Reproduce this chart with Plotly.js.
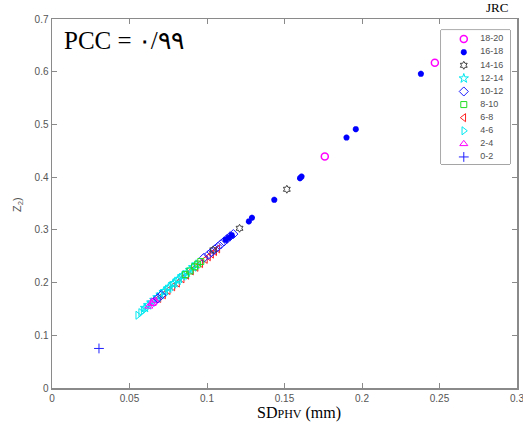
<!DOCTYPE html>
<html>
<head>
<meta charset="utf-8">
<script src="https://cdn.plot.ly/plotly-3.0.1.min.js"></script>
<style>html,body{margin:0;padding:0;background:#fff;}#chart{width:523px;height:430px;}</style>
</head>
<body>
<div id="chart"></div>
<script>
// ---- Data ----
const categories = ["18-20","16-18","14-16","12-14","10-12","8-10","6-8","4-6","2-4","0-2"];

const x_18_20 = [0.0655, 0.176, 0.247];
const y_18_20 = [0.163, 0.439, 0.617];

const x_16_18 = [0.112, 0.114, 0.116, 0.127, 0.129, 0.1434, 0.160, 0.161, 0.190, 0.196, 0.238];
const y_16_18 = [0.281, 0.285, 0.290, 0.316, 0.323, 0.357, 0.398, 0.401, 0.475, 0.491, 0.596];

const x_14_16 = [0.104, 0.121, 0.1515];
const y_14_16 = [0.262, 0.303, 0.377];

const x_12_14 = [0.060,0.062,0.064,0.066,0.068,0.070,0.072,0.073,0.075,0.076,0.078,0.079,0.081,0.082,0.084,0.085,0.087,0.089,0.091,0.093];
const y_12_14 = [0.152,0.157,0.162,0.167,0.172,0.177,0.182,0.184,0.189,0.192,0.197,0.199,0.204,0.207,0.212,0.214,0.219,0.224,0.229,0.234];

const x_10_12 = [0.0682,0.0705,0.098,0.101,0.103,0.105,0.107,0.109,0.111,0.113,0.115,0.117];
const y_10_12 = [0.170,0.176,0.247,0.253,0.258,0.263,0.268,0.273,0.278,0.283,0.288,0.292];

const x_8_10 = [0.086,0.089,0.092,0.094,0.096];
const y_8_10 = [0.215,0.222,0.230,0.235,0.240];

const x_6_8 = [0.069,0.072,0.075,0.078,0.081,0.084,0.087,0.090,0.093,0.096,0.099,0.101,0.103,0.105,0.107];
const y_6_8 = [0.170,0.177,0.185,0.192,0.199,0.207,0.214,0.222,0.229,0.236,0.244,0.249,0.254,0.259,0.264];

const x_4_6 = [0.0553,0.0572,0.0588,0.0605];
const y_4_6 = [0.138,0.143,0.147,0.151];

const x_2_4 = [0.0625,0.0645,0.0668];
const y_2_4 = [0.155,0.160,0.166];

const x_0_2 = [0.0303];
const y_0_2 = [0.075];

const xTicks = [0, 0.05, 0.1, 0.15, 0.2, 0.25, 0.3];
const xTickText = ["0","0.05","0.1","0.15","0.2","0.25","0.3"];
const yTicks = [0, 0.1, 0.2, 0.3, 0.4, 0.5, 0.6, 0.7];
const yTickText = ["0","0.1","0.2","0.3","0.4","0.5","0.6","0.7"];

// ---- Styles ----
const styles = {
  "18-20": {symbol:"circle-open", color:"#ff00ff", size:7, lw:1.5},
  "16-18": {symbol:"asterisk-open", color:"#0000ff", size:5, lw:2},
  "14-16": {symbol:"hexagram-open", color:"#404040", size:6, lw:1},
  "12-14": {symbol:"star-open", color:"#00e8f0", size:7, lw:1},
  "10-12": {symbol:"diamond-open", color:"#1a1aff", size:7, lw:1},
  "8-10":  {symbol:"square-open", color:"#22dd22", size:6, lw:1},
  "6-8":   {symbol:"triangle-left-open", color:"#ff2020", size:7, lw:1},
  "4-6":   {symbol:"triangle-right-open", color:"#00e8f0", size:7, lw:1},
  "2-4":   {symbol:"triangle-up-open", color:"#ff00ff", size:7, lw:1},
  "0-2":   {symbol:"cross-thin-open", color:"#2020ff", size:7, lw:1}
};

const seriesData = {
  "18-20": [x_18_20, y_18_20],
  "16-18": [x_16_18, y_16_18],
  "14-16": [x_14_16, y_14_16],
  "12-14": [x_12_14, y_12_14],
  "10-12": [x_10_12, y_10_12],
  "8-10":  [x_8_10, y_8_10],
  "6-8":   [x_6_8, y_6_8],
  "4-6":   [x_4_6, y_4_6],
  "2-4":   [x_2_4, y_2_4],
  "0-2":   [x_0_2, y_0_2]
};

const drawOrder = ["6-8","12-14","4-6","2-4","18-20","10-12","8-10","14-16","16-18","0-2"];

const traces = [];
drawOrder.forEach(function(c){
  const s = styles[c];
  traces.push({
    type:"scatter", mode:"markers", name:c,
    x: seriesData[c][0], y: seriesData[c][1],
    marker:{symbol:s.symbol, size:s.size, color:s.color, line:{color:s.color, width:s.lw}},
    showlegend:false, hoverinfo:"skip"
  });
});

// custom legend (MATLAB-like compact box) on an overlay axis
const legIdx = categories.map(function(_, i){ return i; });
categories.forEach(function(c, i){
  const s = styles[c];
  traces.push({
    type:"scatter", mode:"markers", xaxis:"x2", yaxis:"y2",
    x:[0.33], y:[legIdx[i]],
    marker:{symbol:s.symbol, size:s.size, color:s.color, line:{color:s.color, width:s.lw}},
    showlegend:false, hoverinfo:"skip"
  });
});
traces.push({
  type:"scatter", mode:"text", xaxis:"x2", yaxis:"y2",
  x: categories.map(function(){ return 0.57; }), y: legIdx,
  text: categories, textposition:"middle right",
  textfont:{family:"Liberation Sans, Arial, sans-serif", size:9, color:"#505050"},
  showlegend:false, hoverinfo:"skip"
});

const axisCommon = {
  showgrid:false, zeroline:false, showline:true, linecolor:"#8a8a8a", linewidth:1.5,
  mirror:"ticks", ticks:"inside", ticklen:5, tickcolor:"#8a8a8a", tickwidth:1,
  ticklabeloverflow:"allow",
  tickfont:{family:"Liberation Sans, Arial, sans-serif", size:10, color:"#555555"}
};

const layout = {
  width:523, height:430,
  margin:{l:52, r:6, t:19, b:42},
  paper_bgcolor:"#ffffff", plot_bgcolor:"#ffffff",
  showlegend:false,
  xaxis: Object.assign({}, axisCommon, {range:[0,0.3], tickvals:xTicks, ticktext:xTickText}),
  yaxis: Object.assign({}, axisCommon, {range:[0,0.7], tickvals:yTicks, ticktext:yTickText}),
  xaxis2:{domain:[0.8366,0.985], range:[0,1], anchor:"y2", showgrid:false, zeroline:false, showline:false, showticklabels:false, ticks:""},
  yaxis2:{domain:[0.607,0.970], range:[9.54,-0.69], anchor:"x2", showgrid:false, zeroline:false, showline:false, showticklabels:false, ticks:""},
  shapes:[
    {type:"rect", xref:"paper", yref:"paper", x0:0.8366, x1:0.985, y0:0.607, y1:0.970,
     line:{color:"#505050", width:1}, fillcolor:"rgba(255,255,255,1)", layer:"below"}
  ],
  annotations:[
    {xref:"paper", yref:"paper", x:0.0215, y:0.943, xanchor:"left", yanchor:"middle",
     text:"PCC = ۰/۹۹", showarrow:false,
     font:{family:"Liberation Serif, Times New Roman, serif", size:25, color:"#000000"}},
    {xref:"paper", yref:"paper", x:0.957, y:1.03, xanchor:"center", yanchor:"middle",
     text:"JRC", showarrow:false,
     font:{family:"Liberation Serif, Times New Roman, serif", size:13, color:"#000000"}},
    {xref:"paper", yref:"paper", x:0.531, y:-0.068, xanchor:"center", yanchor:"middle",
     text:"SD<span style=\"font-size:12px\">PHV</span> (mm)", showarrow:false,
     font:{family:"Liberation Serif, Times New Roman, serif", size:16, color:"#000000"}},
    {xref:"paper", yref:"paper", x:-0.073, y:0.496, xanchor:"center", yanchor:"middle",
     text:"Z<sub>2</sub>)", textangle:-90, showarrow:false,
     font:{family:"Liberation Sans, Arial, sans-serif", size:11, color:"#555555"}}
  ]
};

Plotly.newPlot("chart", traces, layout, {staticPlot:true, displayModeBar:false});
</script>
</body>
</html>
